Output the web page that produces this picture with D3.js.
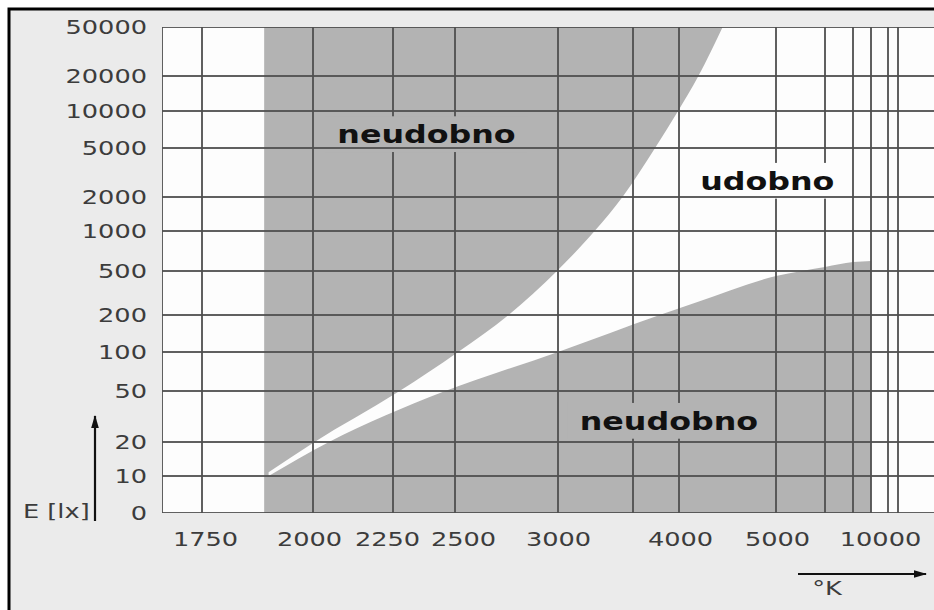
<!DOCTYPE html>
<html>
<head>
<meta charset="utf-8">
<script src="https://cdn.jsdelivr.net/npm/d3@7"></script>
<style>
  html, body { margin: 0; padding: 0; background: #fff; }
  svg { display: block; }
</style>
</head>
<body>
<svg id="chart" width="934" height="610"></svg>
<script>
// Colour temperature (K): labelled ticks and all gridlines
const xTickLabels = [1750, 2000, 2250, 2500, 3000, 4000, 5000, 10000];
const xGridValues = [1750, 2000, 2250, 2500, 3000, 3500, 4000, 5000, 6000, 7000, 8000, 10000, 15000];

// Illuminance (lx): the lowest tick is printed as "0"
const yTickValues = [5, 10, 20, 50, 100, 200, 500, 1000, 2000, 5000, 10000, 20000, 50000];
const yTickLabels = ["0", "10", "20", "50", "100", "200", "500", "1000", "2000", "5000", "10000", "20000", "50000"];

// Upper limit of the comfortable zone, [K, lx]
const upperLimit = [[1900, 10.8], [2000, 19.6], [2270, 49], [2515, 100], [2760, 200], [2995, 500],
                    [3250, 1020], [3430, 2000], [3740, 5000], [3990, 10000], [4200, 20000], [4450, 50000]];
// Lower limit of the comfortable zone, [K, lx]
const lowerLimit = [[1900, 10], [2050, 20], [2450, 49], [3000, 100], [3790, 200], [4190, 262],
                    [5000, 450], [6000, 536], [7000, 584], [8000, 595]];
const rangeStartK = 1890;
const rangeEndK = 8000;

// Zone names
const zoneLabels = [
  { text: "neudobno", k: 2385, lux: 5500, comfortable: false },
  { text: "udobno",   k: 4910, lux: 2300, comfortable: true },
  { text: "neudobno", k: 3890, lux: 25,   comfortable: false }
];

// ---- layout ----
const W = 934, H = 610;
const plot = { left: 162, top: 27, bottom: 513, right: 934 };
// both axes are ruled by hand with uneven spacing: gridline offsets from the plot's left / top edge
const xGridOffsets = [40, 151, 231, 293, 396, 471, 517, 614, 663, 691, 709, 726, 736];
const yGridOffsets = [486, 449, 415, 364, 325, 288, 244, 204, 170, 121, 84, 49, 0];
// small horizontal shifts of the temperature labels, so neighbours do not collide
const xLabelNudge = [3, -4, -6, 8, 0, 1, 1, -8];

const GREY = "#b3b3b3", WHITE = "#fdfdfd", GRID = "#4f4f4f";
const FONT = "'DejaVu Sans', Verdana, sans-serif";
const SX = 1.35;      // horizontal stretch of axis lettering
const SX_BOLD = 1.27; // horizontal stretch of zone names

const x = d3.scaleLinear().domain(xGridValues).range(xGridOffsets.map(d => plot.left + d));
const y = d3.scaleLog().domain(yTickValues).range(yGridOffsets.map(d => plot.top + d));

const svg = d3.select("#chart");
const defs = svg.append("defs");

// figure background and frame
svg.append("rect").attr("x", 9).attr("y", 9).attr("width", W).attr("height", H).attr("fill", "#ebebeb");
svg.append("path").attr("d", `M9,${H} V9 H${W}`).attr("fill", "none").attr("stroke", "#000").attr("stroke-width", 3);

defs.append("clipPath").attr("id", "plotClip")
  .append("rect").attr("x", plot.left).attr("y", plot.top)
  .attr("width", plot.right - plot.left).attr("height", plot.bottom - plot.top);

const g = svg.append("g").attr("clip-path", "url(#plotClip)");

// plot background
g.append("rect").attr("x", plot.left).attr("y", plot.top)
  .attr("width", plot.right - plot.left).attr("height", plot.bottom - plot.top).attr("fill", WHITE);

// uncomfortable zone covers the whole range...
g.append("rect").attr("x", x(rangeStartK)).attr("y", plot.top)
  .attr("width", plot.right - x(rangeStartK)).attr("height", plot.bottom - plot.top).attr("fill", GREY);

// ...except the comfortable band between the two limits and the area past the range
const curve = d3.line().x(d => x(d[0])).y(d => y(d[1])).curve(d3.curveMonotoneX);
const lastLower = lowerLimit[lowerLimit.length - 1];
const comfortPath = curve(upperLimit)
  + `L${plot.right},${plot.top}L${plot.right},${plot.bottom}`
  + `L${x(rangeEndK)},${plot.bottom}L${x(rangeEndK)},${y(lastLower[1])}`
  + curve(lowerLimit.slice().reverse()).replace(/^M/, "L") + "Z";
g.append("path").attr("d", comfortPath).attr("fill", WHITE);

// vertical gridlines
g.selectAll("line.vgrid").data([x.invert(plot.left), ...xGridValues]).join("line")
  .attr("class", "vgrid")
  .attr("x1", d => x(d)).attr("x2", d => x(d))
  .attr("y1", plot.top).attr("y2", plot.bottom)
  .attr("stroke", GRID).attr("stroke-width", 2).attr("stroke-opacity", 0.9);

// layers: label backing hides vertical gridlines, horizontal gridlines run over it
const labelBack = g.append("g");
const hgrid = g.append("g");
const labelText = g.append("g");

const labels = labelText.selectAll("g").data(zoneLabels).join("g")
  .attr("transform", d => `translate(${x(d.k)},${y(d.lux)}) scale(${SX_BOLD},1)`);
labels.append("text")
  .attr("text-anchor", "middle")
  .attr("font-family", FONT).attr("font-weight", "bold").attr("font-size", 25)
  .attr("fill", "#111")
  .text(d => d.text);

labels.each(function (d) {
  const b = d3.select(this).select("text").node().getBBox();
  const cx = x(d.k), cy = y(d.lux);
  labelBack.append("rect")
    .attr("x", cx + b.x * SX_BOLD - 12).attr("width", b.width * SX_BOLD + 24)
    .attr("y", cy + b.y - 3).attr("height", b.height + 6)
    .attr("fill", d.comfortable ? WHITE : GREY);
});

// horizontal gridlines
hgrid.selectAll("line").data(yTickValues).join("line")
  .attr("x1", plot.left).attr("x2", plot.right)
  .attr("y1", d => y(d)).attr("y2", d => y(d))
  .attr("stroke", GRID).attr("stroke-width", 2).attr("stroke-opacity", 0.9);

// axes
const yAxis = d3.axisLeft(y).tickValues(yTickValues)
  .tickFormat((d, i) => yTickLabels[i]).tickSize(0).tickPadding(15);
const gy = svg.append("g").attr("transform", `translate(${plot.left},0)`).call(yAxis);
gy.select(".domain").remove();
gy.attr("font-family", FONT).attr("font-size", 19);
gy.selectAll("text").attr("fill", "#3c3c3c")
  .attr("transform", `scale(${SX},1)`).attr("x", -15 / SX);

const xAxis = d3.axisBottom(x).tickValues(xTickLabels)
  .tickFormat(d3.format("d")).tickSize(0).tickPadding(20);
const gx = svg.append("g").attr("transform", `translate(0,${plot.bottom})`).call(xAxis);
gx.select(".domain").remove();
gx.attr("font-family", FONT).attr("font-size", 19);
gx.selectAll("text").attr("fill", "#3c3c3c")
  .attr("transform", (d, i) => `translate(${xLabelNudge[i]},0) scale(${SX},1)`);

// arrows and axis titles
defs.append("marker").attr("id", "arrow").attr("viewBox", "0 0 12 7")
  .attr("refX", 11).attr("refY", 3.5).attr("markerWidth", 6).attr("markerHeight", 3.5)
  .attr("orient", "auto")
  .append("path").attr("d", "M0,0L12,3.5L0,7Z").attr("fill", "#111");

svg.append("line").attr("x1", 95).attr("y1", 521).attr("x2", 95).attr("y2", 416)
  .attr("stroke", "#111").attr("stroke-width", 2.2).attr("marker-end", "url(#arrow)");
svg.append("line").attr("x1", 798).attr("y1", 574).attr("x2", 926).attr("y2", 574)
  .attr("stroke", "#111").attr("stroke-width", 2.2).attr("marker-end", "url(#arrow)");

svg.append("g").attr("transform", `translate(23,518) scale(${SX},1)`)
  .append("text").attr("font-family", FONT).attr("font-size", 19).attr("fill", "#3c3c3c")
  .text("E [lx]");
svg.append("g").attr("transform", `translate(827,595) scale(${SX},1)`)
  .append("text").attr("text-anchor", "middle").attr("font-family", FONT).attr("font-size", 19)
  .attr("fill", "#3c3c3c").text("°K");
</script>
</body>
</html>
